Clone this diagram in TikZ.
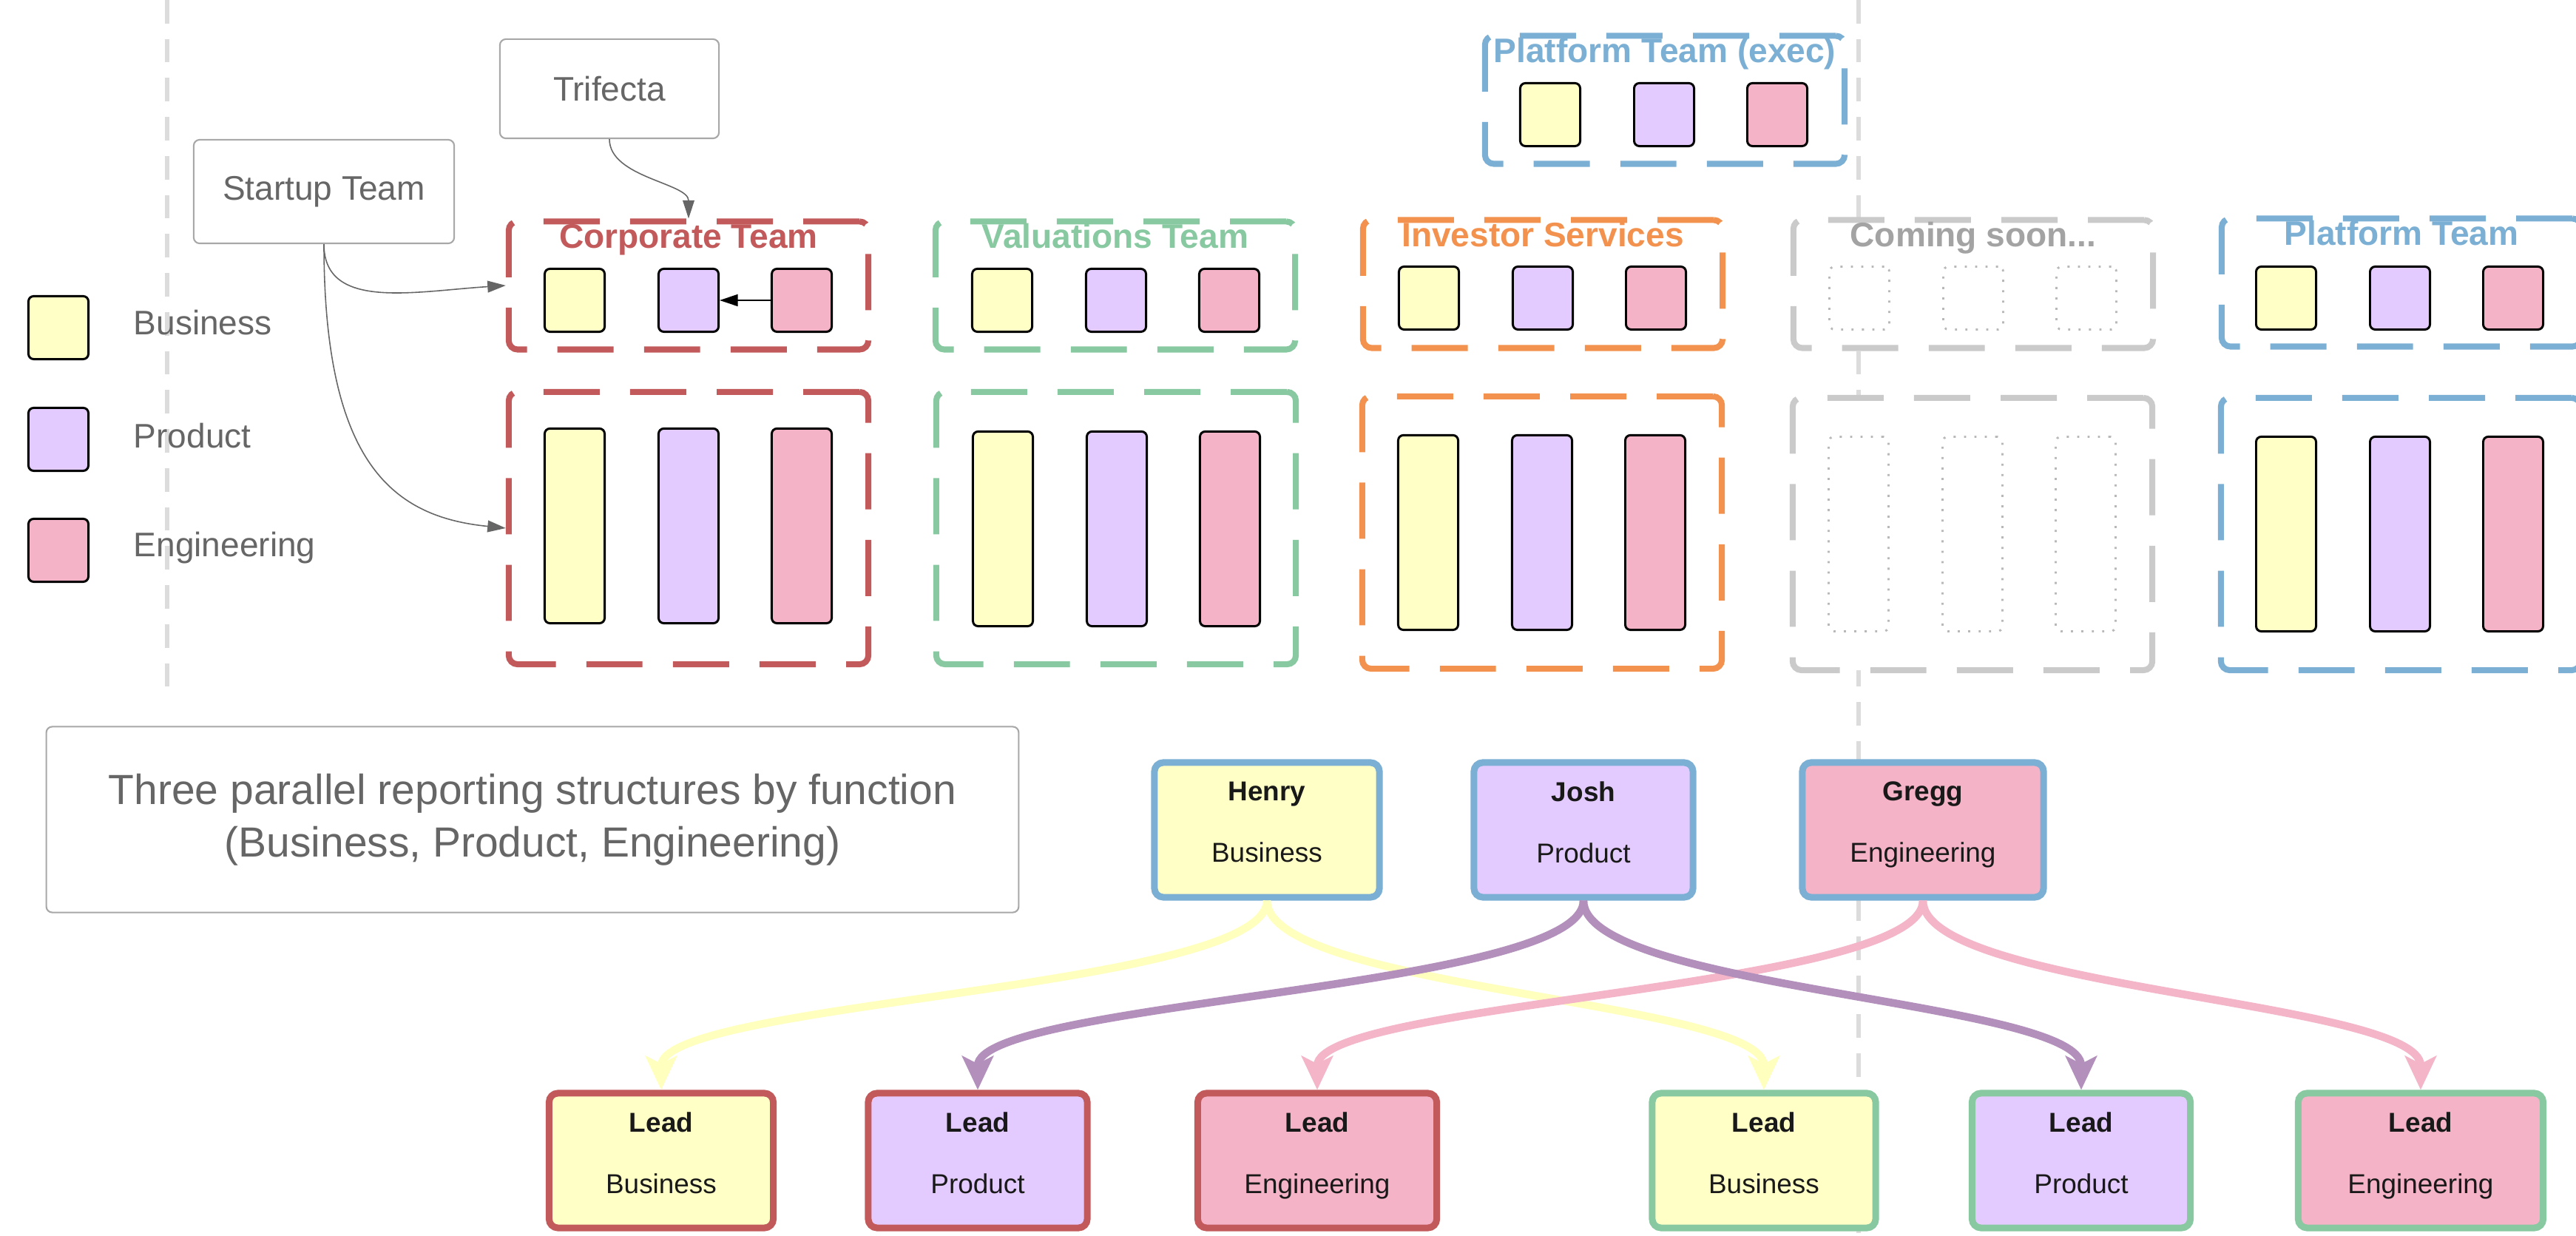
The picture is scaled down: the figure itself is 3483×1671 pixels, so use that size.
\documentclass[tikz,border=0pt]{standalone}
\usepackage{fontspec}
\setmainfont{Liberation Sans}
\usetikzlibrary{arrows.meta}
\definecolor{bizc}{HTML}{FFFFC6}
\definecolor{prodc}{HTML}{E4CBFF}
\definecolor{engc}{HTML}{F5B3C8}
\definecolor{redc}{HTML}{C25A5B}
\definecolor{greenc}{HTML}{88C9A1}
\definecolor{orangec}{HTML}{F3924E}
\definecolor{bluec}{HTML}{7BAFD4}
\definecolor{ghostc}{HTML}{CACACA}
\definecolor{ghosttext}{HTML}{A3A3A3}
\definecolor{ghostdot}{HTML}{B8B8B8}
\definecolor{linec}{HTML}{DCDCDC}
\definecolor{txtgray}{HTML}{666666}
\definecolor{boxgray}{HTML}{A8A8A8}
\definecolor{arrowgray}{HTML}{666666}
\definecolor{parrow}{HTML}{B38FBB}
\definecolor{earrow}{HTML}{F4B5C9}
\definecolor{barrow}{HTML}{FFFFBE}
\newcommand{\topbox}[6]{%
  \node[teambox, draw=#4, minimum height=1.73cm] (#1) at (#2,#3) {};
  \node[teamtitle, text=#5] (#1-title) at (#2,#3-50) {#6};
}
\newcommand{\botbox}[4]{%
  \node[teambox, draw=#4, minimum height=3.68cm] (#1) at (#2,#3) {};
}
\newcommand{\threesq}[7]{%
  \node[#5, minimum height=#4] (#1-b) at (#2-154,#3) {};
  \node[#6, minimum height=#4] (#1-p) at (#2,#3) {};
  \node[#7, minimum height=#4] (#1-e) at (#2+153,#3) {};
}
\newcommand{\twolines}[2]{\textbf{#1}\\[11pt]#2\rule[-6pt]{0pt}{6pt}}
\tikzset{
  teambox/.style={rectangle, fill=white, line width=2.3pt, rounded corners=0.12cm,
    minimum width=4.86cm, dash pattern=on 21.6pt off 11.7pt, inner sep=0pt},
  teamtitle/.style={anchor=base, font=\bfseries\fontsize{13.1}{15}\selectfont, inner sep=0pt},
  sq/.style={rectangle, draw=black, line width=0.85pt, rounded corners=0.07cm,
    minimum width=0.81cm, inner sep=0pt},
  bizsq/.style={sq, fill=bizc},
  prodsq/.style={sq, fill=prodc},
  engsq/.style={sq, fill=engc},
  ghostsq/.style={rectangle, draw=ghostdot, line width=0.8pt, dash pattern=on 0.8pt off 3.2pt,
    rounded corners=0.07cm, minimum width=0.81cm, inner sep=0pt},
  person/.style={rectangle, line width=2.56pt, rounded corners=0.12cm, minimum height=1.82cm,
    inner sep=0pt, align=center, font=\fontsize{10.5}{12.6}\selectfont, text=black!90},
  notebox/.style={rectangle, draw=boxgray, line width=0.6pt, rounded corners=0.08cm,
    fill=white, text=txtgray, inner sep=0pt},
  legendtxt/.style={anchor=base west, text=txtgray, font=\fontsize{13.1}{15}\selectfont, inner sep=0pt},
  flow/.style={line width=3pt, -{Stealth[length=13pt,width=12pt,inset=3pt]}},
  thinarrow/.style={draw=arrowgray, line width=0.45pt, -{Triangle[length=7pt,width=4.5pt]}},
  blackarrow/.style={draw=black, line width=0.7pt, -{Triangle[length=7pt,width=4.5pt]}},
  vline/.style={draw=linec, line width=1.7pt, dash pattern=on 9pt off 6pt},
}
\begin{document}
\begin{tikzpicture}[x=0.01cm,y=-0.01cm]
\useasboundingbox (0,0) rectangle (3483,1671);
\clip (0,0) rectangle (3483,1671);
\fill[white] (0,0) rectangle (3483,1671);

% vertical dashed separators
\coordinate (vlA1) at (226,0);
\coordinate (vlA2) at (226,945);
\coordinate (vlB1) at (2513,0);
\coordinate (vlB2) at (2513,1671);
\draw[vline] (vlA1) -- (vlA2);
\draw[vline] (vlB1) -- (vlB2);

% legend
\node[bizsq, minimum height=0.85cm] (lgB) at (79,443) {};
\node[prodsq, minimum height=0.85cm] (lgP) at (79,594) {};
\node[engsq, minimum height=0.85cm] (lgE) at (79,744) {};
\node[legendtxt] (lgBt) at (180,453) {Business};
\node[legendtxt] (lgPt) at (180,606) {Product};
\node[legendtxt] (lgEt) at (180,753) {Engineering};

% note boxes
\node[notebox, minimum width=2.96cm, minimum height=1.34cm, font=\fontsize{13.1}{15}\selectfont] (trifecta) at (824,120) {Trifecta};
\node[notebox, minimum width=3.52cm, minimum height=1.40cm, font=\fontsize{13.1}{15}\selectfont] (startup) at (438,259) {Startup Team};

% team boxes
\topbox{corpT}{931}{386}{redc}{redc}{Corporate Team}
\threesq{corpT}{931}{406}{0.85cm}{bizsq}{prodsq}{engsq}
\botbox{corpB}{931}{714}{redc}
\threesq{corpB}{931}{711}{2.63cm}{bizsq}{prodsq}{engsq}

\topbox{valT}{1508}{386}{greenc}{greenc}{Valuations Team}
\threesq{valT}{1509}{406}{0.85cm}{bizsq}{prodsq}{engsq}
\botbox{valB}{1509}{714}{greenc}
\threesq{valB}{1510}{715}{2.63cm}{bizsq}{prodsq}{engsq}

\topbox{invT}{2086}{384}{orangec}{orangec}{Investor Services}
\threesq{invT}{2086}{403}{0.85cm}{bizsq}{prodsq}{engsq}
\botbox{invB}{2085}{720}{orangec}
\threesq{invB}{2085}{720}{2.63cm}{bizsq}{prodsq}{engsq}

\topbox{soonT}{2668}{384}{ghostc}{ghosttext}{Coming soon...}
\threesq{soonT}{2668}{403}{0.85cm}{ghostsq}{ghostsq}{ghostsq}
\botbox{soonB}{2667}{722}{ghostc}
\threesq{soonB}{2667}{722}{2.63cm}{ghostsq}{ghostsq}{ghostsq}

\topbox{platT}{3247}{382}{bluec}{bluec}{Platform Team}
\threesq{platT}{3245}{403}{0.85cm}{bizsq}{prodsq}{engsq}
\botbox{platB}{3246}{722}{bluec}
\threesq{platB}{3245}{722}{2.63cm}{bizsq}{prodsq}{engsq}

\topbox{execT}{2251}{135}{bluec}{bluec}{Platform Team (exec)}
\threesq{execT}{2250}{155}{0.85cm}{bizsq}{prodsq}{engsq}

% connectors at top
\draw[blackarrow] (corpT-e.west) -- (corpT-p.east);
\draw[thinarrow] (trifecta.south) .. controls +(0,52) and +(0,-48) .. (corpT.north);
\draw[thinarrow] (startup.south) .. controls +(0,90) and +(-125,8) .. (corpT.west);
\draw[thinarrow] (startup.south) .. controls +(0,300) and +(-150,-15) .. (corpB.west);

% description
\node[notebox, minimum width=13.14cm, minimum height=2.51cm, font=\fontsize{16.2}{20.2}\selectfont, align=center] (desc) at (720,1108) {Three parallel reporting structures by function\\(Business, Product, Engineering)};

% function heads
\node[person, draw=bluec, fill=bizc, minimum width=3.04cm] (henry) at (1713,1122) {\twolines{Henry}{Business}};
\node[person, draw=bluec, fill=prodc, minimum width=2.96cm] (josh) at (2141,1122) {\twolines{Josh}{Product}};
\node[person, draw=bluec, fill=engc, minimum width=3.26cm] (gregg) at (2600,1122) {\twolines{Gregg}{Engineering}};

% leads
\node[person, draw=redc, fill=bizc, minimum width=3.03cm] (leadB1) at (894,1569) {\twolines{Lead}{Business}};
\node[person, draw=redc, fill=prodc, minimum width=2.96cm] (leadP1) at (1322,1569) {\twolines{Lead}{Product}};
\node[person, draw=redc, fill=engc, minimum width=3.23cm] (leadE1) at (1781,1569) {\twolines{Lead}{Engineering}};
\node[person, draw=greenc, fill=bizc, minimum width=3.02cm] (leadB2) at (2385,1569) {\twolines{Lead}{Business}};
\node[person, draw=greenc, fill=prodc, minimum width=2.95cm] (leadP2) at (2814,1569) {\twolines{Lead}{Product}};
\node[person, draw=greenc, fill=engc, minimum width=3.31cm] (leadE2) at (3273,1569) {\twolines{Lead}{Engineering}};

% reporting lines
\draw[flow, color=barrow] (henry.south) .. controls +(0,120) and +(0,-120) .. (leadB1.north);
\draw[flow, color=barrow] (henry.south) .. controls +(0,120) and +(0,-120) .. (leadB2.north);
\draw[flow, color=earrow] (gregg.south) .. controls +(0,120) and +(0,-120) .. (leadE1.north);
\draw[flow, color=earrow] (gregg.south) .. controls +(0,120) and +(0,-120) .. (leadE2.north);
\draw[flow, color=parrow] (josh.south) .. controls +(0,120) and +(0,-120) .. (leadP1.north);
\draw[flow, color=parrow] (josh.south) .. controls +(0,120) and +(0,-120) .. (leadP2.north);
\end{tikzpicture}
\end{document}
